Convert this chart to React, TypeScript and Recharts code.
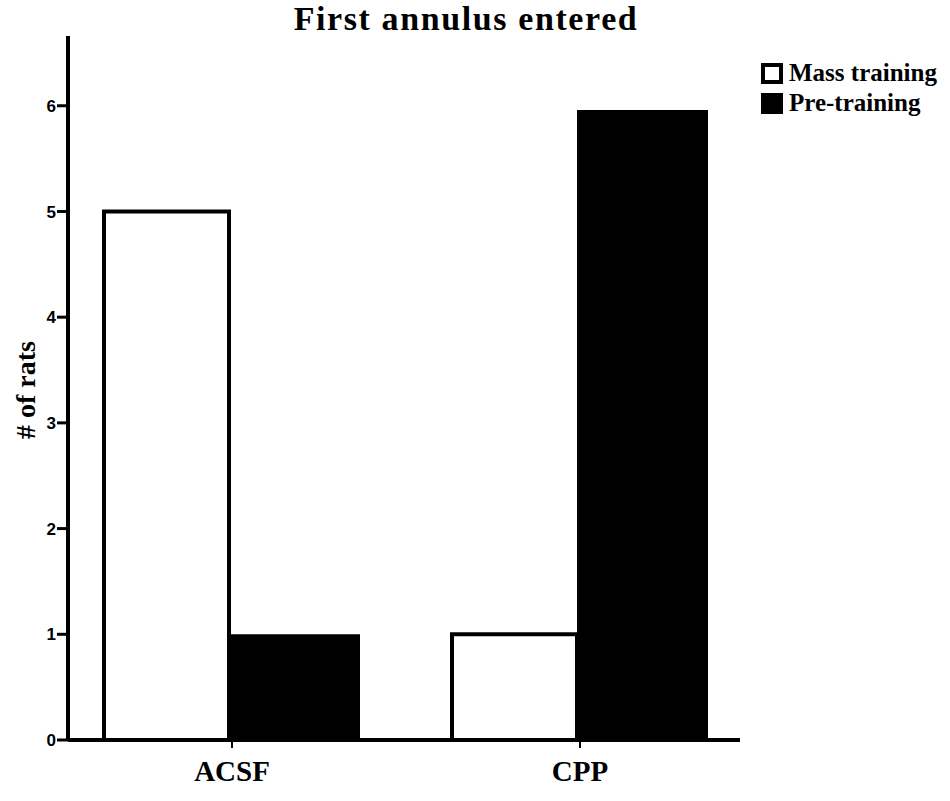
import React from 'react';
import { BarChart, Bar, XAxis, YAxis } from 'recharts';

const groups = ['ACSF', 'CPP'];
const massTraining = [5, 1];
const preTraining = [1, 5.96];
const yTicks = [0, 1, 2, 3, 4, 5, 6];

const data = groups.map((g, i) => ({
  group: g,
  mass: massTraining[i],
  pre: preTraining[i],
}));

const serif = '"Liberation Serif", "Times New Roman", serif';
const sans = '"Liberation Sans", Arial, sans-serif';

const LegendBox = () => (
  <div
    style={{
      position: 'absolute',
      left: 761,
      top: 58,
      fontFamily: serif,
      fontWeight: 'bold',
      fontSize: 25,
      lineHeight: '30px',
      color: '#000',
      whiteSpace: 'nowrap',
    }}
  >
    <div style={{ display: 'flex', alignItems: 'center' }}>
      <span style={{ width: 14, height: 13, border: '4px solid #000', background: '#fff', marginRight: 6 }} />
      Mass training
    </div>
    <div style={{ display: 'flex', alignItems: 'center' }}>
      <span style={{ width: 22, height: 21, background: '#000', marginRight: 6 }} />
      Pre-training
    </div>
  </div>
);

const App: React.FC = () => {
  return (
    <div style={{ position: 'absolute', left: 0, top: 0, width: 950, height: 801, background: '#fff' }}>
      <div
        style={{
          position: 'absolute',
          left: 466,
          top: 2,
          transform: 'translateX(-50%)',
          fontFamily: serif,
          fontWeight: 'bold',
          fontSize: 34,
          lineHeight: '34px',
          letterSpacing: 1.6,
          whiteSpace: 'nowrap',
        }}
      >
        First annulus entered
      </div>
      <div
        style={{
          position: 'absolute',
          left: 26,
          top: 390,
          transform: 'translate(-50%, -50%) rotate(-90deg)',
          fontFamily: serif,
          fontWeight: 'bold',
          fontSize: 28,
          whiteSpace: 'nowrap',
        }}
      >
        # of rats
      </div>
      <LegendBox />
      <BarChart
        width={950}
        height={801}
        data={data}
        margin={{ top: 36, right: 210, bottom: 0, left: 0 }}
        barGap={0}
      >
        <XAxis
          dataKey="group"
          height={61}
          padding={{ left: -10, right: -14 }}
          axisLine={{ stroke: '#000', strokeWidth: 4 }}
          tickLine={{ stroke: '#000', strokeWidth: 2 }}
          tickSize={8}
          tickMargin={12}
          tick={{ fill: '#000', fontSize: 29, fontWeight: 'bold', fontFamily: serif }}
        />
        <YAxis
          width={68}
          domain={[0, 6.66]}
          ticks={yTicks}
          allowDataOverflow
          axisLine={{ stroke: '#000', strokeWidth: 4 }}
          tickLine={{ stroke: '#000', strokeWidth: 3 }}
          tickSize={11}
          tickMargin={1}
          tick={{ fill: '#000', fontSize: 17, fontWeight: 'bold', fontFamily: sans }}
        />
        <Bar dataKey="mass" barSize={125} fill="#fff" stroke="#000" strokeWidth={4} isAnimationActive={false} />
        <Bar dataKey="pre" barSize={131} fill="#000" stroke="#000" strokeWidth={0} isAnimationActive={false} />
      </BarChart>
    </div>
  );
};

export default App;
